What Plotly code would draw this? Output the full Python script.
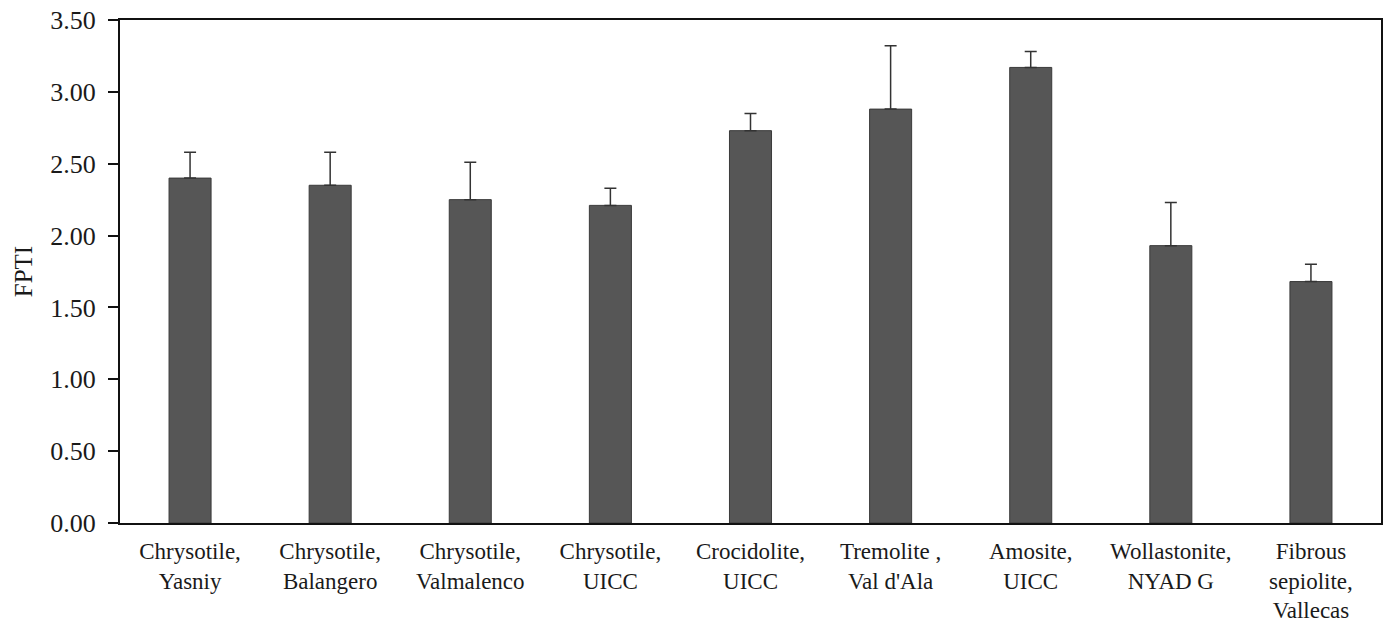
import plotly.graph_objects as go

categories = [
    "Chrysotile,<br>Yasniy",
    "Chrysotile,<br>Balangero",
    "Chrysotile,<br>Valmalenco",
    "Chrysotile,<br>UICC",
    "Crocidolite,<br>UICC",
    "Tremolite ,<br>Val d'Ala",
    "Amosite,<br>UICC",
    "Wollastonite,<br>NYAD G",
    "Fibrous<br>sepiolite,<br>Vallecas",
]
fpti = [2.40, 2.35, 2.25, 2.21, 2.73, 2.88, 3.17, 1.93, 1.68]
fpti_err = [0.18, 0.23, 0.26, 0.12, 0.12, 0.44, 0.11, 0.30, 0.12]
y_ticks = [0.0, 0.5, 1.0, 1.5, 2.0, 2.5, 3.0, 3.5]

font_family = "Liberation Serif"

fig = go.Figure(
    go.Bar(
        x=categories,
        y=fpti,
        width=0.3,
        marker=dict(color="#565656", line=dict(color="#3a3a3a", width=1)),
        error_y=dict(
            type="data",
            array=fpti_err,
            symmetric=False,
            arrayminus=[0] * len(fpti_err),
            color="#333333",
            thickness=1.5,
            width=6,
        ),
    )
)

fig.update_layout(
    width=1383,
    height=624,
    margin=dict(l=120, r=2, t=20, b=101),
    paper_bgcolor="white",
    plot_bgcolor="white",
    showlegend=False,
    font=dict(family=font_family, size=23, color="#1a1a1a"),
)

fig.update_xaxes(
    automargin=False,
    showline=True,
    linecolor="#111111",
    linewidth=2,
    mirror=True,
    ticks="",
    ticklabelstandoff=6,
    tickfont=dict(family=font_family, size=23, color="#1a1a1a"),
    showgrid=False,
)

fig.update_yaxes(
    automargin=False,
    range=[0, 3.5],
    tickvals=y_ticks,
    tickformat=".2f",
    showline=True,
    linecolor="#111111",
    linewidth=2,
    mirror=True,
    ticks="outside",
    ticklen=10,
    tickwidth=1.5,
    tickcolor="#111111",
    showgrid=False,
    zeroline=False,
    ticklabelstandoff=7,
    tickfont=dict(family=font_family, size=26, color="#1a1a1a"),
    title=dict(text="FPTI", font=dict(family=font_family, size=25, color="#1a1a1a"), standoff=11),
)

fig.write_html("out.html")
